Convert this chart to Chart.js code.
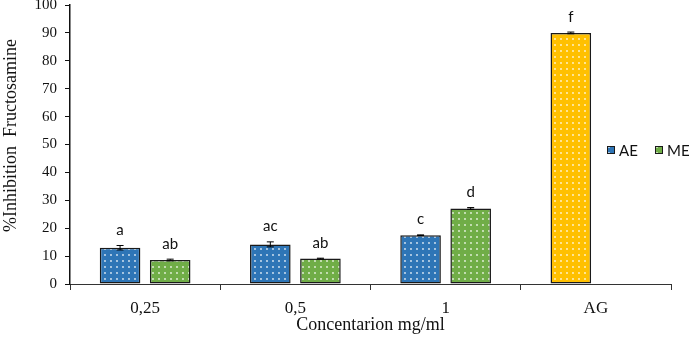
<!DOCTYPE html>
<html>
<head>
<meta charset="utf-8">
<script src="https://cdn.jsdelivr.net/npm/chart.js@4.4.1/dist/chart.umd.min.js"></script>
<style>
html,body{margin:0;padding:0;background:#fff;}
#wrap{width:692px;height:340px;position:relative;}
</style>
</head>
<body>
<div id="wrap"><canvas id="c" width="692" height="340"></canvas></div>
<script>
const categories = ['0,25', '0,5', '1', 'AG'];
const aeValues = [13.0, 14.2, 17.5, 90.0];
const meValues = [8.6, 9.1, 27.1, null];
const aeErrors = [0.8, 0.9, 0.1, 0.3];
const meErrors = [0.3, 0.15, 0.3, 0];
const aeLetters = ['a', 'ac', 'c', 'f'];
const meLetters = ['ab', 'ab', 'd', ''];
const yTicks = [0, 10, 20, 30, 40, 50, 60, 70, 80, 90, 100];

function dotPattern(color) {
  const p = document.createElement('canvas');
  p.width = 6; p.height = 6;
  const g = p.getContext('2d');
  g.fillStyle = color;
  g.fillRect(0, 0, 6, 6);
  g.fillStyle = 'rgba(255,255,255,0.85)';
  g.beginPath();
  g.arc(3, 3, 0.9, 0, Math.PI * 2);
  g.fill();
  return document.getElementById('c').getContext('2d').createPattern(p, 'repeat');
}
const blue = dotPattern('#2E75B6');
const green = dotPattern('#70AD47');
const yellow = dotPattern('#FFC000');

const overlay = {
  id: 'overlay',
  afterDatasetsDraw(chart) {
    const ctx = chart.ctx;
    const y = chart.scales.y;
    const sets = [[aeValues, aeErrors, aeLetters], [meValues, meErrors, meLetters]];
    sets.forEach((s, di) => {
      const meta = chart.getDatasetMeta(di);
      meta.data.forEach((bar, i) => {
        const v = s[0][i];
        if (v === null || v === undefined) return;
        const e = s[1][i];
        const x = bar.x;
        const yt = y.getPixelForValue(v + e);
        const yb = y.getPixelForValue(v - e);
        ctx.save();
        ctx.strokeStyle = '#000';
        ctx.lineWidth = 1;
        if (e > 0) {
          ctx.beginPath();
          ctx.moveTo(x, yt); ctx.lineTo(x, yb);
          ctx.moveTo(x - 3.5, yt); ctx.lineTo(x + 3.5, yt);
          ctx.moveTo(x - 3.5, yb); ctx.lineTo(x + 3.5, yb);
          ctx.stroke();
        }
        const L = s[2][i];
        if (L) {
          ctx.fillStyle = '#111';
          ctx.font = '15px Lato';
          ctx.textAlign = 'center';
          ctx.textBaseline = 'alphabetic';
          ctx.fillText(L, x, yt - 10.5);
        }
        ctx.restore();
      });
    });
    // legend
    const items = [['AE', blue, 607], ['ME', green, 655]];
    ctx.save();
    items.forEach(([t, pat, lx]) => {
      const ly = 150;
      ctx.fillStyle = pat;
      ctx.fillRect(lx, ly - 4, 8, 8);
      ctx.strokeStyle = '#1a1a1a';
      ctx.lineWidth = 1;
      ctx.strokeRect(lx + 0.5, ly - 3.5, 7, 7);
      ctx.fillStyle = '#111';
      ctx.font = '15px Lato';
      ctx.textAlign = 'left';
      ctx.textBaseline = 'middle';
      ctx.fillText(t, lx + 12, ly + 1);
    });
    ctx.restore();
  }
};

new Chart(document.getElementById('c'), {
  type: 'bar',
  data: {
    labels: categories,
    datasets: [
      {
        label: 'AE',
        data: aeValues,
        backgroundColor: categories.map(c => c === 'AG' ? yellow : blue),
        borderColor: '#1a1a1a',
        borderWidth: 1.5,
        borderSkipped: false,
        barPercentage: 0.81,
        categoryPercentage: 0.667
      },
      {
        label: 'ME',
        data: meValues,
        backgroundColor: green,
        borderColor: '#1a1a1a',
        borderWidth: 1.5,
        borderSkipped: false,
        barPercentage: 0.81,
        categoryPercentage: 0.667
      }
    ]
  },
  options: {
    responsive: false,
    animation: false,
    devicePixelRatio: 1,
    layout: { padding: { top: 5, right: 21, left: 0, bottom: 0 } },
    plugins: { legend: { display: false }, tooltip: { enabled: false } },
    scales: {
      x: {
        afterFit(s) { s.height = 56; s.paddingLeft = 0; s.paddingRight = 0; },
        grid: { offset: true, drawOnChartArea: false, tickLength: 6, color: '#333', lineWidth: 1 },
        border: { color: '#333', width: 1 },
        ticks: { color: '#111', font: { family: 'Liberation Serif', size: 17 }, padding: 8 },
        title: { display: true, text: 'Concentarion mg/ml', color: '#111', font: { family: 'Liberation Serif', size: 18 }, padding: { top: 0, bottom: 4 } }
      },
      y: {
        min: 0, max: 100,
        afterFit(s) { s.width = 70; s.paddingTop = 0; s.paddingBottom = 0; },
        afterBuildTicks(s) { s.ticks = yTicks.map(v => ({ value: v })); },
        grid: { drawOnChartArea: false, tickLength: 5, color: '#111', lineWidth: 1 },
        border: { color: '#111', width: 1.5 },
        ticks: { color: '#111', font: { family: 'Liberation Serif', size: 15 }, padding: 8 },
        title: { display: true, text: '    %Inhibition  Fructosamine', color: '#111', font: { family: 'Liberation Serif', size: 18 }, padding: { top: 0, bottom: 0 } }
      }
    }
  },
  plugins: [overlay]
});
</script>
</body>
</html>
